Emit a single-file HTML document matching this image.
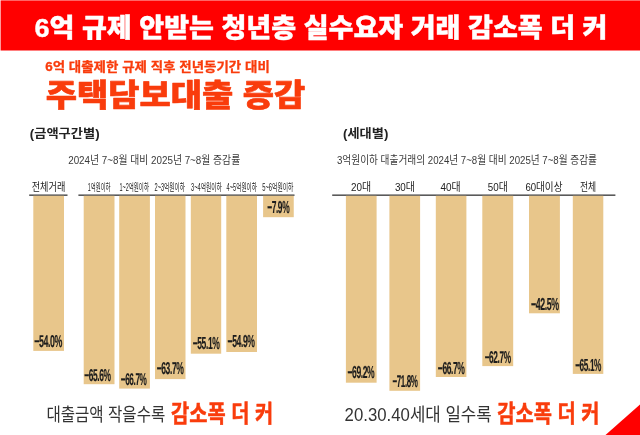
<!DOCTYPE html>
<html lang="ko">
<head>
<meta charset="utf-8">
<title>6억 규제 안받는 청년층 실수요자 거래 감소폭 더 커</title>
<style>
html,body{margin:0;padding:0}
body{width:640px;height:435px;position:relative;overflow:hidden;background:#fff;font-family:"Liberation Sans",sans-serif}
svg{position:absolute;left:0;top:0;will-change:transform}
.bar{fill:#e8c68b}
.axis{fill:#5a5a5a}
.pct{font-family:"Liberation Sans",sans-serif;font-weight:bold;font-size:17.2px;letter-spacing:-0.8px;fill:#1c1c1c;stroke:#1c1c1c;stroke-width:.2px;vector-effect:non-scaling-stroke;text-rendering:geometricPrecision}
.kr{font-family:"Liberation Sans","Noto Sans CJK KR","NanumGothic",sans-serif}
</style>
</head>
<body>
<svg width="640" height="435" viewBox="0 0 640 435" role="img" aria-label="주택담보대출 증감 인포그래픽">
<rect x="0.6" y="0.4" width="640" height="50.1" fill="#ff0000"/>
<polygon points="640,404.6 640,435 605.5,435" fill="#ff0000"/>
<g class="axis"><rect x="29.2" y="194.4" width="38.3" height="1.6"/><rect x="78.4" y="194.4" width="216.1" height="1.6"/><rect x="332.2" y="194.4" width="283.2" height="1.6"/></g>
<g class="bar">
<rect x="33.3" y="195.8" width="30.7" height="155.1"/>
<rect x="83.7" y="195.8" width="30.8" height="188.4"/>
<rect x="119.2" y="195.8" width="30.7" height="192.8"/>
<rect x="155" y="195.8" width="30.5" height="183.3"/>
<rect x="190.8" y="195.8" width="30.4" height="157.9"/>
<rect x="226.3" y="195.8" width="30.7" height="156.2"/>
<rect x="263.1" y="195.8" width="30.65" height="21.4"/>
<rect x="345.9" y="195.8" width="30.7" height="186.9"/>
<rect x="389.4" y="195.8" width="30.7" height="195"/>
<rect x="435.8" y="195.8" width="30.6" height="181.2"/>
<rect x="482.3" y="195.8" width="30.9" height="170.3"/>
<rect x="529" y="195.8" width="30.9" height="117.5"/>
<rect x="572.8" y="195.8" width="30.5" height="178.1"/>
</g>
<g class="pct">
<text transform="translate(34.23 347.23) scale(0.513 0.994)">−54.0%</text>
<text transform="translate(84.25 381.03) scale(0.488 0.994)">−65.6%</text>
<text transform="translate(120.76 384.83) scale(0.477 0.985)">−66.7%</text>
<text transform="translate(156.65 374.31) scale(0.496 1.000)">−63.7%</text>
<text transform="translate(192.65 349.03) scale(0.496 1.014)">−55.1%</text>
<text transform="translate(227.54 347.03) scale(0.500 1.010)">−54.9%</text>
<text transform="translate(267.15 212.73) scale(0.488 1.010)">−7.9%</text>
<text transform="translate(347.45 378.13) scale(0.496 1.010)">−69.2%</text>
<text transform="translate(392.47 387.13) scale(0.466 0.994)">−71.8%</text>
<text transform="translate(437.85 374.33) scale(0.494 1.010)">−66.7%</text>
<text transform="translate(484.66 363.03) scale(0.481 0.994)">−62.7%</text>
<text transform="translate(531.03 310.13) scale(0.513 1.010)">−42.5%</text>
<text transform="translate(575.16 371.03) scale(0.479 1.010)">−65.1%</text>
</g>
<g class="kr" fill="#fff" stroke="#fff" stroke-width="0.4" stroke-linejoin="round" font-weight="900" font-size="26.5"><text x="34.5" y="36.8" textLength="573" lengthAdjust="spacingAndGlyphs">6억 규제 안받는 청년층 실수요자 거래 감소폭 더 커</text></g>
<g class="kr" fill="#f93c0c" stroke="#f93c0c" stroke-width="0.3" stroke-linejoin="round" font-weight="bold" font-size="12.8"><text x="45.2" y="70.6" textLength="224.6" lengthAdjust="spacingAndGlyphs">6억 대출제한 규제 직후 전년동기간 대비</text></g>
<g class="kr" fill="#f93c0c" stroke="#f93c0c" stroke-width="0.6" stroke-linejoin="round" font-weight="900" font-size="30.5"><text x="45.8" y="106" textLength="259.5" lengthAdjust="spacingAndGlyphs">주택담보대출 증감</text></g>
<g class="kr" fill="#222" font-weight="bold" font-size="12.4"><text x="29.8" y="138" textLength="69.8" lengthAdjust="spacingAndGlyphs">(금액구간별)</text></g>
<g class="kr" fill="#222" font-weight="bold" font-size="12.4"><text x="343.1" y="138" textLength="45.2" lengthAdjust="spacingAndGlyphs">(세대별)</text></g>
<g class="kr" fill="#3a3a3a" font-size="11"><text x="68.2" y="163.8" textLength="172" lengthAdjust="spacingAndGlyphs">2024년 7~8월 대비 2025년 7~8월 증감률</text></g>
<g class="kr" fill="#3a3a3a" font-size="11"><text x="337" y="163.8" textLength="260" lengthAdjust="spacingAndGlyphs">3억원이하 대출거래의 2024년 7~8월 대비 2025년 7~8월 증감률</text></g>
<g class="kr" fill="#222" font-size="11"><text x="31.7" y="191.3" textLength="33.6" lengthAdjust="spacingAndGlyphs">전체거래</text></g>
<g class="kr" fill="#222" font-size="10.5"><text x="87.7" y="191.2" textLength="22.9" lengthAdjust="spacingAndGlyphs">1억원이하</text></g>
<g class="kr" fill="#222" font-size="10.5"><text x="119.4" y="191.2" textLength="29.6" lengthAdjust="spacingAndGlyphs">1~2억원이하</text></g>
<g class="kr" fill="#222" font-size="10.5"><text x="154.5" y="191.2" textLength="30.5" lengthAdjust="spacingAndGlyphs">2~3억원이하</text></g>
<g class="kr" fill="#222" font-size="10.5"><text x="191" y="191.2" textLength="30.9" lengthAdjust="spacingAndGlyphs">3~4억원이하</text></g>
<g class="kr" fill="#222" font-size="10.5"><text x="226.6" y="191.2" textLength="30.4" lengthAdjust="spacingAndGlyphs">4~5억원이하</text></g>
<g class="kr" fill="#222" font-size="10.5"><text x="262.2" y="191.2" textLength="31.2" lengthAdjust="spacingAndGlyphs">5~6억원이하</text></g>
<g class="kr" fill="#222" font-size="11.5"><text x="351.1" y="191.3" textLength="20.1" lengthAdjust="spacingAndGlyphs">20대</text></g>
<g class="kr" fill="#222" font-size="11.5"><text x="394.9" y="191.3" textLength="20" lengthAdjust="spacingAndGlyphs">30대</text></g>
<g class="kr" fill="#222" font-size="11.5"><text x="440.5" y="191.3" textLength="20.1" lengthAdjust="spacingAndGlyphs">40대</text></g>
<g class="kr" fill="#222" font-size="11.5"><text x="487.8" y="191.3" textLength="19.9" lengthAdjust="spacingAndGlyphs">50대</text></g>
<g class="kr" fill="#222" font-size="11.5"><text x="525.4" y="191.3" textLength="37.1" lengthAdjust="spacingAndGlyphs">60대이상</text></g>
<g class="kr" fill="#222" font-size="11.5"><text x="579.9" y="191.3" textLength="16.3" lengthAdjust="spacingAndGlyphs">전체</text></g>
<g class="kr" fill="#333" font-size="18.5"><text x="46.4" y="420.9" textLength="118.9" lengthAdjust="spacingAndGlyphs">대출금액 작을수록</text></g>
<g class="kr" fill="#f93c0c" stroke="#f93c0c" stroke-width="0.5" stroke-linejoin="round" font-weight="bold" font-size="24"><text x="171.1" y="422.3" textLength="102.1" lengthAdjust="spacingAndGlyphs">감소폭 더 커</text></g>
<g class="kr" fill="#333" font-size="18.5"><text x="344.6" y="420.9" textLength="147.1" lengthAdjust="spacingAndGlyphs">20.30.40세대 일수록</text></g>
<g class="kr" fill="#f93c0c" stroke="#f93c0c" stroke-width="0.5" stroke-linejoin="round" font-weight="bold" font-size="24"><text x="497.3" y="422.3" textLength="102.2" lengthAdjust="spacingAndGlyphs">감소폭 더 커</text></g>
</svg>
</body>
</html>
